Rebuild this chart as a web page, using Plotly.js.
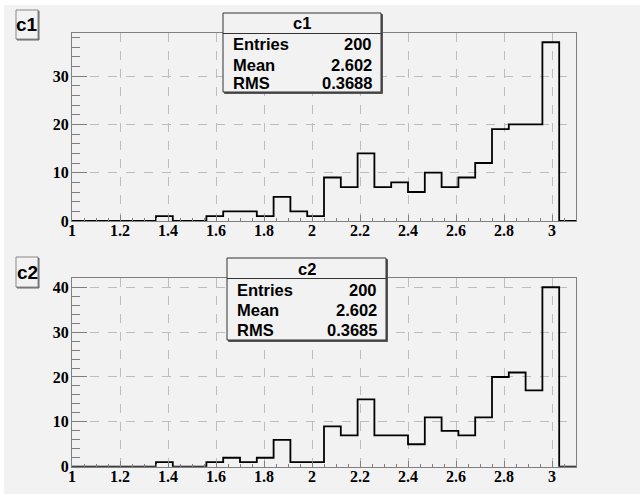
<!DOCTYPE html>
<html>
<head>
<meta charset="utf-8">
<script src="https://cdn.plot.ly/plotly-3.0.1.min.js"></script>
<style>
html,body{margin:0;padding:0;background:#ffffff;width:640px;height:494px;overflow:hidden;}
#chart{position:absolute;left:4px;top:5px;width:636px;height:489px;}
</style>
</head>
<body>
<div id="chart"></div>
<script>
// ---- data ----
const binLow = 1.0;
const binWidth = 0.07;
const countsC1 = [0,0,0,0,0,1,0,0,1,2,2,1,5,2,1,9,7,14,7,8,6,10,7,9,12,19,20,20,37,0];
const countsC2 = [0,0,0,0,0,1,0,0,1,2,1,2,6,1,1,9,7,15,7,7,5,11,8,7,11,20,21,17,40,0];
const statLabels = ["Entries", "Mean", "RMS"];
const statsC1 = ["200", "2.602", "0.3688"];
const statsC2 = ["200", "2.602", "0.3685"];
const padNames = ["c1", "c2"];

// ---- layout helpers ----
const W = 636, H = 489;
const mL = 68, mR = 64, mT = 28, mB = 27;
const pw = W - mL - mR, ph = H - mT - mB;
const px = x => (x - 4 - mL) / pw;          // image pixel -> paper x
const py = y => (H - mB - (y - 5)) / ph;     // image pixel -> paper y

function steps(counts) {
  const xs = [], ys = [];
  for (let i = 0; i <= counts.length; i++) {
    xs.push(binLow + i * binWidth);
    ys.push(i < counts.length ? counts[i] : counts[counts.length - 1]);
  }
  return {xs, ys};
}
const s1 = steps(countsC1), s2 = steps(countsC2);
const ymax1 = Math.max(...countsC1) * 1.05;
const ymax2 = Math.max(...countsC2) * 1.05;

const traces = [
  {x: s1.xs, y: s1.ys, xaxis: 'x', yaxis: 'y', type: 'scatter', mode: 'lines',
   line: {shape: 'hv', color: '#000000', width: 1.8}, hoverinfo: 'skip', showlegend: false},
  {x: s2.xs, y: s2.ys, xaxis: 'x2', yaxis: 'y2', type: 'scatter', mode: 'lines',
   line: {shape: 'hv', color: '#000000', width: 1.8}, hoverinfo: 'skip', showlegend: false}
];

const tickFont = {family: 'Liberation Serif, Times New Roman, serif', size: 16, color: '#000000', weight: 'bold'};
function xax(anchor) {
  return {
    anchor: anchor, domain: [0, 1], range: [binLow, binLow + countsC1.length * binWidth],
    tick0: 1, dtick: 0.2, ticks: 'inside', ticklen: 6, tickcolor: '#7f7f7f',
    minor: {dtick: 0.05, ticks: 'inside', ticklen: 3, tickcolor: '#7f7f7f', showgrid: false},
    showgrid: true, gridcolor: '#bdbdbd', griddash: 'dash', gridwidth: 1,
    showline: true, mirror: true, linecolor: '#808080', linewidth: 1,
    zeroline: false, tickfont: tickFont, ticklabelstandoff: -5, fixedrange: true
  };
}
function yax(anchor, domain, ymax) {
  return {
    anchor: anchor, domain: domain, range: [0, ymax],
    tick0: 0, dtick: 10, ticks: 'inside', ticklen: 15, tickcolor: '#7f7f7f',
    minor: {dtick: 2, ticks: 'inside', ticklen: 8, tickcolor: '#7f7f7f', showgrid: false},
    showgrid: true, gridcolor: '#bdbdbd', griddash: 'dash', gridwidth: 1,
    showline: true, mirror: true, linecolor: '#808080', linewidth: 1,
    zeroline: false, tickfont: tickFont, ticklabelstandoff: -1, fixedrange: true
  };
}

const shapes = [];
const annotations = [];
const statFont = {family: 'Liberation Sans, Arial, sans-serif', size: 16.5, color: '#000000', weight: 'bold'};

function statBox(name, values, x0, x1, y0, ysep, y1, yTitle, yRows, xL, xR) {
  shapes.push({type: 'rect', xref: 'paper', yref: 'paper', x0: px(x0 + 1.5), x1: px(x1 + 1.5), y0: py(y1 + 1.5), y1: py(y0 + 1.5),
               line: {color: '#555555', width: 1}, fillcolor: '#555555', layer: 'above'});
  shapes.push({type: 'rect', xref: 'paper', yref: 'paper', x0: px(x0), x1: px(x1), y0: py(y1), y1: py(y0),
               line: {color: '#333333', width: 1}, fillcolor: '#f2f2f2', layer: 'above'});
  shapes.push({type: 'line', xref: 'paper', yref: 'paper', x0: px(x0), x1: px(x1), y0: py(ysep), y1: py(ysep),
               line: {color: '#333333', width: 1}, layer: 'above'});
  annotations.push({xref: 'paper', yref: 'paper', x: px((x0 + x1) / 2), y: py(yTitle), text: name,
                    showarrow: false, xanchor: 'center', yanchor: 'middle', font: statFont});
  statLabels.forEach((lab, i) => {
    annotations.push({xref: 'paper', yref: 'paper', x: px(xL), y: py(yRows[i]), text: lab,
                      showarrow: false, xanchor: 'left', yanchor: 'middle', font: statFont});
    annotations.push({xref: 'paper', yref: 'paper', x: px(xR), y: py(yRows[i]), text: values[i],
                      showarrow: false, xanchor: 'right', yanchor: 'middle', font: statFont});
  });
}
function padLabel(name, x0, x1, y0, y1) {
  shapes.push({type: 'rect', xref: 'paper', yref: 'paper', x0: px(x0 + 1), x1: px(x1 + 1), y0: py(y1 + 1), y1: py(y0 + 1),
               line: {color: '#666666', width: 1}, fillcolor: '#666666', layer: 'above'});
  shapes.push({type: 'rect', xref: 'paper', yref: 'paper', x0: px(x0), x1: px(x1), y0: py(y1), y1: py(y0),
               line: {color: '#888888', width: 1}, fillcolor: '#f2f2f2', layer: 'above'});
  annotations.push({xref: 'paper', yref: 'paper', x: px((x0 + x1) / 2), y: py((y0 + y1) / 2), text: name,
                    showarrow: false, xanchor: 'center', yanchor: 'middle',
                    font: {family: 'Liberation Sans, Arial, sans-serif', size: 19, color: '#000000', weight: 'bold'}});
}

statBox(padNames[0], statsC1, 223, 381, 13, 33.5, 92, 23.5, [44, 64.5, 83], 231, 374);
statBox(padNames[1], statsC2, 227, 386, 258, 278.5, 340, 268.5, [289.5, 310, 330], 235, 379);
padLabel(padNames[0], 16, 38, 10, 39);
padLabel(padNames[1], 16, 38, 257, 287);

const topDomain = [py(221), py(33.3)];
const botDomain = [py(466.7), py(278.3)];

const layout = {
  width: W, height: H,
  margin: {l: mL, r: mR, t: mT, b: mB, pad: 0},
  paper_bgcolor: '#f2f2f2', plot_bgcolor: '#f2f2f2',
  showlegend: false,
  xaxis: xax('y'), yaxis: yax('x', topDomain, ymax1),
  xaxis2: xax('y2'), yaxis2: yax('x2', botDomain, ymax2),
  shapes: shapes, annotations: annotations,
  hovermode: false
};

Plotly.newPlot('chart', traces, layout, {displayModeBar: false, staticPlot: true});
</script>
</body>
</html>
